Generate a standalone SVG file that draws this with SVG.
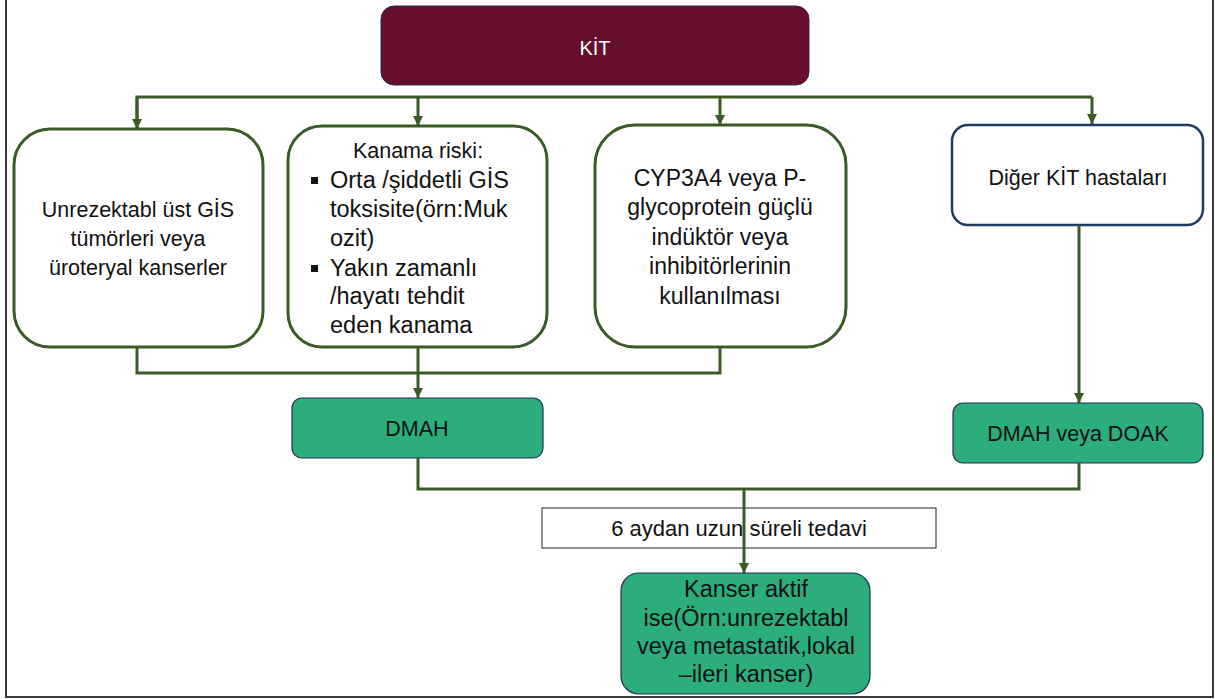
<svg xmlns="http://www.w3.org/2000/svg" width="1215" height="699" viewBox="0 0 1215 699">
  <style>
    text { font-family: "Liberation Sans", Arial, sans-serif; fill: #111; }
    .mid { text-anchor: middle; }
    .outline { fill: #ffffff; stroke: #3a5a26; stroke-width: 3; }
    .teal { fill: #2bad7e; stroke: #1f3050; stroke-width: 1.2; }
    .wire { fill: none; stroke: #3a5a26; stroke-width: 3; }
    .frame { fill: none; stroke: #3a3a3a; stroke-width: 2; }
  </style>
  <defs>
    <marker id="arrow" viewBox="0 0 10 10" refX="10" refY="5" markerWidth="10" markerHeight="11" markerUnits="userSpaceOnUse" orient="auto">
      <path d="M0,0 L10,5 L0,10 z" fill="#3a5a26"/>
    </marker>
  </defs>

  <rect width="1215" height="699" fill="#ffffff"/>
  <path class="frame" d="M6,0 V697 H1213 V0"/>

  <g id="kit">
    <rect x="381" y="6" width="428" height="79" rx="13" fill="#650e2e" stroke="#2a2a55" stroke-width="1"/>
    <text class="mid" x="595" y="55" font-size="20" style="fill:#ffffff">KİT</text>
  </g>

  <g id="gis-tumors">
    <rect class="outline" x="14" y="129" width="249" height="218" rx="36"/>
    <text class="mid" x="138" y="217" font-size="21.5">Unrezektabl üst GİS</text>
    <text class="mid" x="138" y="246" font-size="21.5">tümörleri veya</text>
    <text class="mid" x="138" y="275" font-size="21.5">üroteryal kanserler</text>
  </g>

  <g id="bleeding-risk">
    <rect class="outline" x="288" y="126" width="259" height="221" rx="34"/>
    <text class="mid" x="418" y="158" font-size="21.5">Kanama riski:</text>
    <rect x="311" y="177" width="7" height="7" fill="#111"/>
    <text x="330" y="188" font-size="23.5">Orta /şiddetli GİS</text>
    <text x="330" y="217" font-size="23.5">toksisite(örn:Muk</text>
    <text x="330" y="246" font-size="23.5">ozit)</text>
    <rect x="311" y="265" width="7" height="7" fill="#111"/>
    <text x="330" y="276" font-size="23.5">Yakın zamanlı</text>
    <text x="330" y="304" font-size="23.5">/hayatı tehdit</text>
    <text x="330" y="333" font-size="23.5">eden kanama</text>
  </g>

  <g id="cyp3a4">
    <rect class="outline" x="595" y="125" width="251" height="222" rx="40"/>
    <text class="mid" x="720" y="186" font-size="23">CYP3A4 veya P-</text>
    <text class="mid" x="720" y="215" font-size="23">glycoprotein güçlü</text>
    <text class="mid" x="720" y="245" font-size="23">indüktör veya</text>
    <text class="mid" x="720" y="274" font-size="23">inhibitörlerinin</text>
    <text class="mid" x="720" y="304" font-size="23">kullanılması</text>
  </g>

  <g id="other-patients">
    <rect x="952" y="125" width="251" height="100" rx="16" fill="#ffffff" stroke="#1f3864" stroke-width="2.5"/>
    <text class="mid" x="1078" y="185" font-size="21.5">Diğer KİT hastaları</text>
  </g>

  <g id="dmah">
    <rect class="teal" x="292" y="398" width="251" height="60" rx="10"/>
    <text class="mid" x="417" y="436" font-size="21.5">DMAH</text>
  </g>

  <g id="dmah-doak">
    <rect class="teal" x="953" y="403" width="250" height="60" rx="10"/>
    <text class="mid" x="1078" y="441" font-size="21.5">DMAH veya DOAK</text>
  </g>

  <g id="duration">
    <rect x="542" y="508" width="394" height="40" fill="#ffffff" stroke="#555555" stroke-width="1.3"/>
    <text class="mid" x="739" y="536" font-size="22">6 aydan uzun süreli tedavi</text>
  </g>

  <g id="active-cancer">
    <rect class="teal" x="621" y="573" width="249" height="121" rx="18"/>
    <text class="mid" x="746" y="597" font-size="23.5">Kanser aktif</text>
    <text class="mid" x="746" y="626" font-size="23.5">ise(Örn:unrezektabl</text>
    <text class="mid" x="746" y="654" font-size="23.5">veya metastatik,lokal</text>
    <text class="mid" x="746" y="682" font-size="23.5">–ileri kanser)</text>
  </g>

  <g id="connectors">
    <path class="wire" d="M137,129 V97 H1092"/>
    <path class="wire" d="M137,97 V129" marker-end="url(#arrow)"/>
    <path class="wire" d="M418,97 V126" marker-end="url(#arrow)"/>
    <path class="wire" d="M720,97 V125" marker-end="url(#arrow)"/>
    <path class="wire" d="M1092,97 V124" marker-end="url(#arrow)"/>
    <path class="wire" d="M137,347 V373 H720 V347"/>
    <path class="wire" d="M418,347 V398" marker-end="url(#arrow)"/>
    <path class="wire" d="M1079,225 V403" marker-end="url(#arrow)"/>
    <path class="wire" d="M418,458 V489 H1079 V463"/>
    <path class="wire" d="M744,489 V573" marker-end="url(#arrow)"/>
  </g>
</svg>
